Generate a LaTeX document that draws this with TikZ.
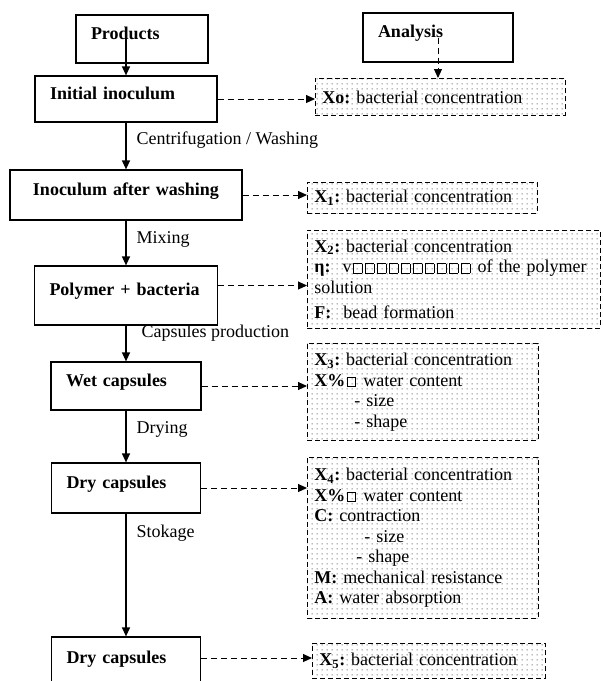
\documentclass[tikz,border=0pt]{standalone}
\usepackage{fontspec}
\setmainfont{Liberation Serif}
\usetikzlibrary{positioning,arrows.meta,patterns.meta}

\tikzdeclarepattern{
  name=sparsedots,
  type=uncolored,
  bounding box={(0,0) and (5pt,5pt)},
  tile size={(5pt,5pt)},
  code={\fill (2.5pt,2.5pt) circle (0.7pt);}
}
\newcommand\nogl{\kern1.5pt{\setlength\fboxsep{0pt}\setlength\fboxrule{0.5pt}\fbox{\rule{0pt}{9pt}\hspace{8pt}}}\kern1.5pt}
\frenchspacing

\begin{document}
\begin{tikzpicture}[x=1pt,y=-1pt,>={Triangle[length=9pt,width=8pt]},
  lbox/.style={draw,line width=1.2pt,font=\fontsize{18}{20}\selectfont\bfseries,align=left,
    inner xsep=15pt,inner ysep=0pt,text height=13pt,text depth=13pt},
  rbox/.style={draw,line width=0.9pt,dash pattern=on 5pt off 3pt,pattern=sparsedots,
    pattern color=black!75,anchor=north west,align=left,inner xsep=7pt,inner ysep=0pt,
    font=\fontsize{18}{20.5}\selectfont},
  steplbl/.style={right,inner sep=0pt,font=\fontsize{18}{20}\selectfont},
  flow/.style={->,line width=1.2pt},
  dflow/.style={->,line width=1pt,dash pattern=on 6pt off 4pt}]
  \useasboundingbox (0,0) rectangle (603,681);
  \clip (0,0) rectangle (603,681);
  % products column
  \node[lbox,text width=102pt,minimum height=48pt] (prod) at (142,39) {Products};
  \node[lbox,text width=152pt,minimum height=46pt] (init) at (126,99) {Initial inoculum};
  \node[lbox,text width=202pt,minimum height=50pt,align=center] (wash) at (126,195) {Inoculum after washing};
  \node[lbox,text width=153pt,minimum height=59pt] (poly) at (126,295.5) {Polymer + bacteria};
  \node[lbox,text width=120pt,minimum height=48pt] (wet) at (126,386) {Wet capsules};
  \node[lbox,text width=119pt,minimum height=50pt] (dry) at (126,488) {Dry capsules};
  \node[lbox,text width=119pt,minimum height=52pt] (dryb) at (126,663) {Dry capsules};
  \draw[flow] ([yshift=8pt]prod.center -| init.north) -- (init.north);
  \draw[flow] (init) -- (wash) node[steplbl,pos=0.37,xshift=10pt]{Centrifugation / Washing};
  \draw[flow] (wash) -- (poly) node[steplbl,pos=0.43,xshift=10pt]{Mixing};
  \draw[flow] (poly) -- (wet) node[steplbl,pos=0.2,xshift=15pt]{Capsules production};
  \draw[flow] (wet) -- (dry) node[steplbl,pos=0.36,xshift=10pt]{Drying};
  \draw[flow] (dry) -- (dryb) node[steplbl,pos=0.16,xshift=10pt]{Stokage};
  % analysis column
  \node[lbox,text width=120pt,minimum height=49pt] (an) at (438,37.5) {Analysis};
  \node[rbox,text width=236pt,minimum height=37pt] (x0) at (315,78) {\textbf{Xo:} bacterial concentration};
  \node[rbox,text width=216pt,minimum height=31pt] (x1) at (307,182) {\textbf{X\textsubscript{1}:} bacterial concentration};
  \node[rbox,text width=279pt,minimum height=98pt] (x2) at (307,230)
    {\textbf{X\textsubscript{2}:} bacterial concentration\\
     \textbf{η:}\ \ v\nogl\nogl\nogl\nogl\nogl\nogl\nogl\nogl\nogl\nogl\ of the polymer\\
     solution\\[5pt]
     \textbf{F:}\ \ bead formation};
  \node[rbox,text width=217pt,minimum height=97pt] (x3) at (307,343)
    {\textbf{X\textsubscript{3}:} bacterial concentration\\
     \textbf{X\%}\nogl\ water content\\
     \hspace*{40pt}- size\\
     \hspace*{40pt}- shape};
  \node[rbox,text width=217pt,minimum height=161pt] (x4) at (307,457)
    {\textbf{X\textsubscript{4}:} bacterial concentration\\
     \textbf{X\%}\nogl\ water content\\
     \textbf{C:} contraction\\
     \hspace*{50pt}- size\\
     \hspace*{42pt}- shape\\
     \textbf{M:} mechanical resistance\\
     \textbf{A:} water absorption};
  \node[rbox,text width=219pt,minimum height=35pt] (x5) at (312,643) {\textbf{X\textsubscript{5}:} bacterial concentration};
  \draw[dflow] (an.center) -- (an.center |- x0.north);
  \draw[dflow] (init) -- (init -| x0.west);
  \draw[dflow] (wash) -- (wash -| x1.west);
  \draw[dflow] ([yshift=10pt]poly.east) -- ([yshift=10pt]poly.east -| x2.west);
  \draw[dflow] (wet) -- (wet -| x3.west);
  \draw[dflow] (dry) -- (dry -| x4.west);
  \draw[dflow] ([yshift=5pt]dryb.east) -- ([yshift=5pt]dryb.east -| x5.west);
\end{tikzpicture}
\end{document}
